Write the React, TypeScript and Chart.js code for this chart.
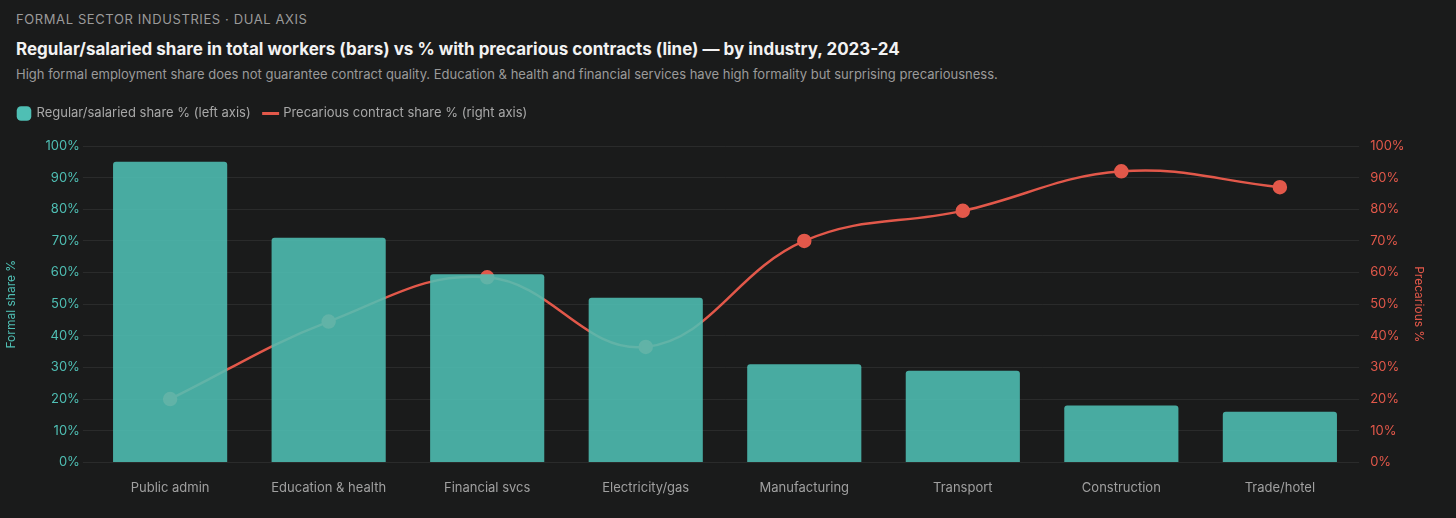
import React, { useEffect, useRef } from "react";
import { Chart, registerables } from "chart.js";
Chart.register(...registerables);

const categories = ["Public admin", "Education & health", "Financial svcs", "Electricity/gas", "Manufacturing", "Transport", "Construction", "Trade/hotel"];
const formalShare = [95, 71, 59.5, 52, 31, 29, 18, 16];
const precariousShare = [20, 44.5, 58.5, 36.5, 70, 79.5, 92, 87];

const TEAL = "#4fbfb4";
const RED = "#e2584a";
const FONT = "Inter, 'Noto Sans', sans-serif";

const legendGap = {
  id: "legendGap",
  beforeInit(chart: any) {
    const orig = chart.legend.fit;
    chart.legend.fit = function () {
      orig.bind(chart.legend)();
      this.height += 16;
    };
  },
};

export default function App() {
  const ref = useRef<HTMLCanvasElement>(null);
  useEffect(() => {
    document.body.style.margin = "0";
    document.body.style.background = "#1a1b1b";
    const chart = new Chart(ref.current!, {
      data: {
        labels: categories,
        datasets: [
          {
            type: "bar",
            label: "Regular/salaried share % (left axis)",
            data: formalShare,
            backgroundColor: "rgba(79,191,180,0.88)",
            borderRadius: 3,
            borderSkipped: "bottom",
            barPercentage: 0.72,
            categoryPercentage: 1,
            yAxisID: "y",
            order: 0,
          },
          {
            type: "line",
            label: "Precarious contract share % (right axis)",
            data: precariousShare,
            borderColor: RED,
            backgroundColor: RED,
            borderWidth: 2.5,
            tension: 0.4,
            pointRadius: 6,
            pointHoverRadius: 6,
            yAxisID: "y1",
            order: 1,
          },
        ],
      },
      plugins: [legendGap],
      options: {
        animation: false,
        responsive: true,
        maintainAspectRatio: false,
        layout: { padding: { left: 0, right: 10, bottom: 10 } },
        plugins: {
          legend: {
            position: "top",
            align: "start",
            labels: {
              color: "#a8a8a8",
              font: { family: FONT, size: 13 },
              usePointStyle: true,
              boxWidth: 12,
              boxHeight: 12,
              padding: 14,
              generateLabels: (c: any) =>
                c.data.datasets.map((d: any, i: number) => ({
                  text: d.label,
                  fillStyle: i === 0 ? TEAL : RED,
                  strokeStyle: i === 0 ? TEAL : RED,
                  lineWidth: i === 0 ? 0 : 3,
                  pointStyle: i === 0 ? "rectRounded" : "line",
                  fontColor: "#a8a8a8",
                  datasetIndex: i,
                  hidden: false,
                })),
            },
          },
          tooltip: { enabled: false },
        },
        scales: {
          x: {
            grid: { display: false },
            border: { display: false },
            ticks: { color: "#a0a0a0", font: { family: FONT, size: 13 }, padding: 10 },
          },
          y: {
            position: "left",
            min: 0,
            max: 100,
            afterFit: (s: any) => { s.width += 14; },
            ticks: { stepSize: 10, color: TEAL, font: { family: FONT, size: 13 }, callback: (v: any) => v + "%" },
            grid: { color: "rgba(255,255,255,0.07)" },
            border: { display: false },
            title: { display: true, text: "Formal share %", color: TEAL, font: { family: FONT, size: 12 }, padding: { top: 0, bottom: 10 } },
          },
          y1: {
            position: "right",
            min: 0,
            max: 100,
            ticks: { stepSize: 10, color: RED, font: { family: FONT, size: 13 }, callback: (v: any) => v + "%" },
            grid: { display: false },
            border: { display: false },
            title: { display: true, text: "Precarious %", color: RED, font: { family: FONT, size: 12 } },
          },
        },
      },
    } as any);
    return () => chart.destroy();
  }, []);
  return (
    <div style={{ background: "#1a1b1b", width: 1456, height: 518, boxSizing: "border-box", padding: "10px 16px 0 16px", fontFamily: FONT, overflow: "hidden" }}>
      <div style={{ color: "#9a9a9a", fontSize: 13, letterSpacing: 0.6, lineHeight: "18px" }}>FORMAL SECTOR INDUSTRIES · DUAL AXIS</div>
      <div style={{ color: "#f2f2f2", fontSize: 17, fontWeight: 700, marginTop: 10, lineHeight: "22px" }}>
        Regular/salaried share in total workers (bars) vs % with precarious contracts (line) — by industry, 2023-24
      </div>
      <div style={{ color: "#9a9a9a", fontSize: 13, marginTop: 5, lineHeight: "18px" }}>
        High formal employment share does not guarantee contract quality. Education &amp; health and financial services have high formality but surprising precariousness.
      </div>
      <div style={{ position: "relative", height: 423, marginTop: 10, marginLeft: -12, marginRight: 0 }}>
        <canvas ref={ref} />
      </div>
    </div>
  );
}
